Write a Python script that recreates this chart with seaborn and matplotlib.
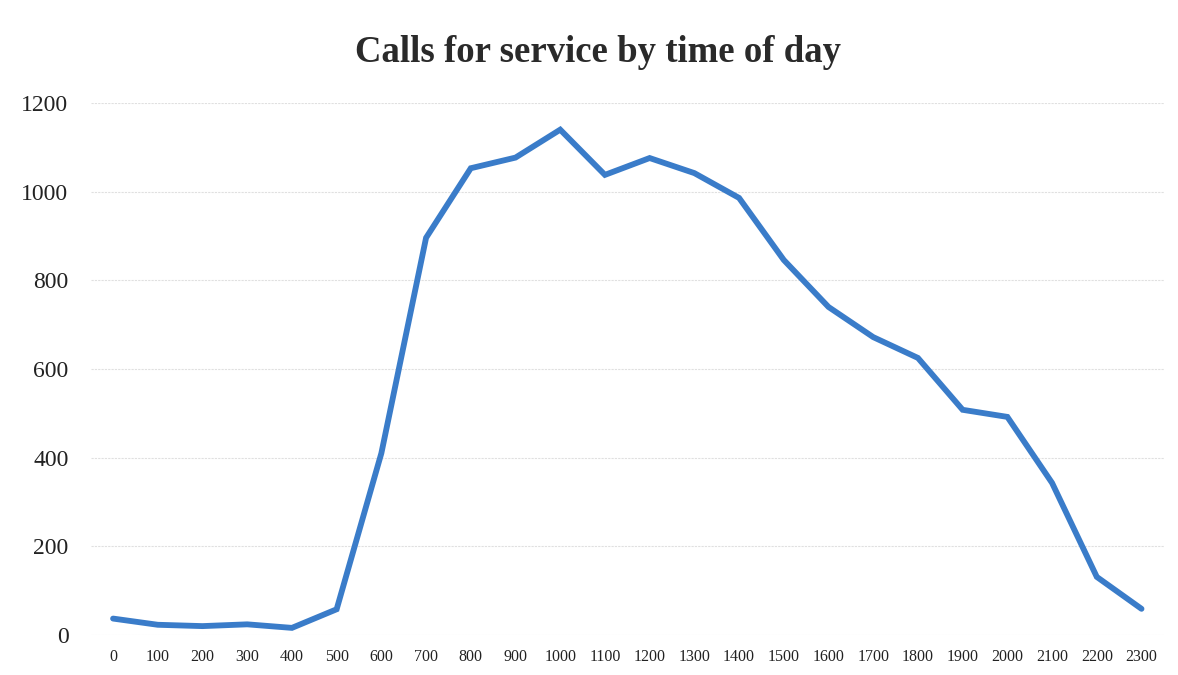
import matplotlib
matplotlib.use("Agg")
import matplotlib.pyplot as plt
import seaborn as sns
import pandas as pd

hours = ["0", "100", "200", "300", "400", "500", "600", "700", "800", "900",
         "1000", "1100", "1200", "1300", "1400", "1500", "1600", "1700", "1800",
         "1900", "2000", "2100", "2200", "2300"]
calls = [37, 23, 20, 24, 16, 58, 410, 896, 1053, 1077, 1140, 1038, 1076, 1042,
         986, 846, 740, 672, 625, 508, 492, 343, 131, 59]
y_ticks = [0, 200, 400, 600, 800, 1000, 1200]

sns.set_theme(style="white")
plt.rcParams['font.family'] = ['Liberation Serif', 'DejaVu Serif']

df = pd.DataFrame({"hour": hours, "calls": calls})
df["pos"] = range(len(hours))

fig = plt.figure(figsize=(11.78, 6.75), dpi=100)
ax = fig.add_axes([0.077, 0.0593, 0.911, 0.788])

sns.lineplot(data=df, x="pos", y="calls", ax=ax, color="#3a7cc9",
             linewidth=4.2, solid_joinstyle="miter", solid_capstyle="round")

ax.set_xlim(-0.5, len(hours) - 0.5)
ax.set_ylim(0, 1200)
ax.set_xticks(df["pos"])
ax.set_xticklabels(hours)
ax.set_yticks(y_ticks)
ax.tick_params(axis="x", labelsize=11.5, pad=10, length=0, colors="#222222")
ax.tick_params(axis="y", labelsize=17, pad=16, length=0, colors="#222222")
ax.grid(axis="y", color="#e0e0e0", linestyle=(0, (2, 1)), linewidth=0.8)
for s in ax.spines.values():
    s.set_visible(False)
ax.set_xlabel("")
ax.set_ylabel("")

fig.text(0.508, 1 - 62 / 675, "Calls for service by time of day", ha="center",
         va="baseline", fontsize=26.5, fontweight="bold", color="#2a2a2a")

fig.savefig("out.png", dpi=100, facecolor="white")
